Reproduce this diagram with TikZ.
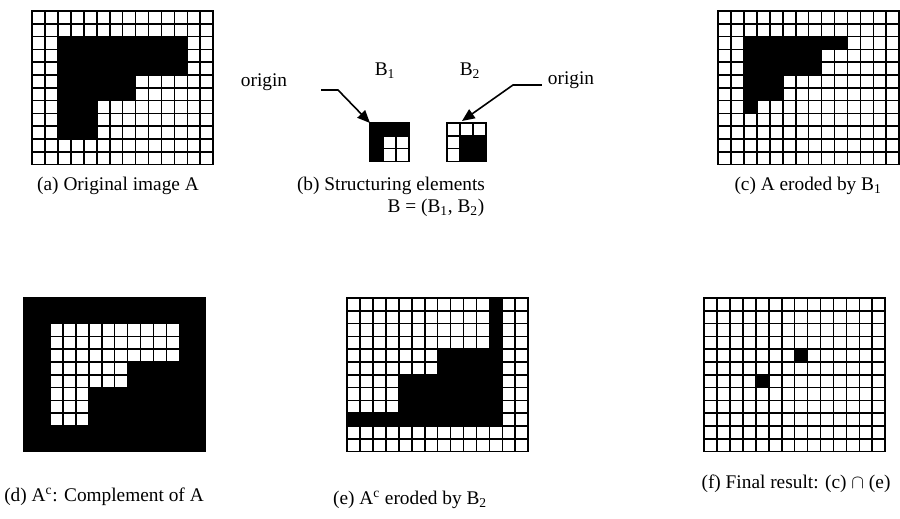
\documentclass[tikz,border=0pt]{standalone}
\usepackage{fontspec}
\setmainfont{Liberation Serif}
\usetikzlibrary{arrows.meta}

\tikzset{
  gridline/.style={line width=1.25pt},
  labeltext/.style={font=\fontsize{14.5}{17}\selectfont, inner sep=0pt},
  pointer/.style={line width=1.2pt, -{Triangle[length=9.5pt,width=8pt]}},
  panel/.style={x=9.71pt, y=-9.6pt},
}
% grid of #1 columns and #2 rows, in cell units
\newcommand{\cellgrid}[2]{%
  \foreach \i in {0,...,#1} \draw[gridline] (\i,0) -- (\i,#2);
  \foreach \j in {0,...,#2} \draw[gridline] (0,\j) -- (#1,\j);
}

\begin{document}
\begin{tikzpicture}[x=0.75pt, y=-0.75pt, line cap=rect]
  \useasboundingbox (0,0) rectangle (900,518);

  % (a) the original image A
  \begin{scope}[shift={(32,11)}, panel]
    \fill (2,2) rectangle (12,5);
    \fill (2,5) rectangle (8,7);
    \fill (2,7) rectangle (5,10);
    \cellgrid{14}{12}
  \end{scope}

  % (b) the two structuring elements
  \begin{scope}[shift={(370,123)}, panel]
    \fill (0,0) rectangle (3,1);
    \fill (0,1) rectangle (1,3);
    \cellgrid{3}{3}
  \end{scope}
  \begin{scope}[shift={(447,123)}, panel]
    \fill (1,1) rectangle (3,3);
    \cellgrid{3}{3}
  \end{scope}

  % (c) A eroded by B1
  \begin{scope}[shift={(718,11)}, panel]
    \fill (2,2) rectangle (10,3);
    \fill (2,3) rectangle (8,5);
    \fill (2,5) rectangle (5,7);
    \fill (2,7) rectangle (3,8);
    \cellgrid{14}{12}
  \end{scope}

  % (d) the complement of A
  \begin{scope}[shift={(24,298)}, panel]
    \fill (0,0) rectangle (14,12);
    \fill[white] (2,2) rectangle (12,5);
    \fill[white] (2,5) rectangle (8,7);
    \fill[white] (2,7) rectangle (5,10);
    \cellgrid{14}{12}
  \end{scope}

  % (e) the complement eroded by B2
  \begin{scope}[shift={(347,298)}, panel]
    \fill (11,0) rectangle (12,4);
    \fill (7,4) rectangle (12,6);
    \fill (4,6) rectangle (12,9);
    \fill (0,9) rectangle (12,10);
    \cellgrid{14}{12}
  \end{scope}

  % (f) intersection of (c) and (e)
  \begin{scope}[shift={(704,298)}, panel]
    \fill (7,4) rectangle (8,5);
    \fill (4,6) rectangle (5,7);
    \cellgrid{14}{12}
  \end{scope}

  % labels
  \node[labeltext] (lblBone) at (385,71) {B\textsubscript{1}};
  \node[labeltext] (lblBtwo) at (470,71) {B\textsubscript{2}};
  \node[labeltext] (origL) at (264,82) {origin};
  \node[labeltext] (origR) at (571,80) {origin};

  \node[labeltext] (capA) at (118,186) {(a) Original image A};
  \node[labeltext] (capB) at (391,186) {(b) Structuring elements};
  \node[labeltext] (capBset) at (436,208) {B = (B\textsubscript{1}, B\textsubscript{2})};
  \node[labeltext] (capC) at (808,186) {(c) A eroded by B\textsubscript{1}};
  \node[labeltext] (capD) at (104,497) {(d) A\textsuperscript{c}: Complement of A};
  \node[labeltext] (capE) at (410,500) {(e) A\textsuperscript{c} eroded by B\textsubscript{2}};
  \node[labeltext] (capF) at (796,484) {(f) Final result: (c) $\cap$ (e)};

  % origin pointers
  \coordinate (tailL) at (322,90);
  \coordinate (kneeL) at (338,90);
  \coordinate (tipBone) at (370,123);
  \draw[pointer] (tailL) -- (kneeL) -- (tipBone);
  \coordinate (tailR) at (541,85);
  \coordinate (kneeR) at (513,85);
  \coordinate (tipBtwo) at (462,121);
  \draw[pointer] (tailR) -- (kneeR) -- (tipBtwo);
\end{tikzpicture}
\end{document}
